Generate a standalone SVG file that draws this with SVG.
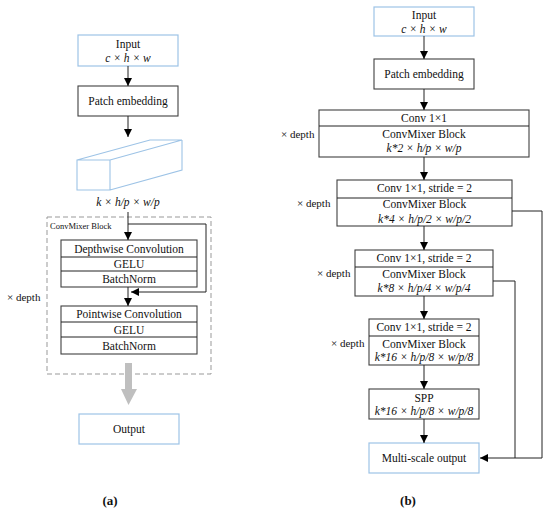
<svg xmlns="http://www.w3.org/2000/svg" width="550" height="513" viewBox="0 0 550 513" font-family="'Liberation Serif', 'DejaVu Serif', serif">
<defs>
<marker id="ah" viewBox="0 0 10 10" refX="10" refY="5" markerWidth="8" markerHeight="8" markerUnits="userSpaceOnUse" orient="auto">
<path d="M0,0 L10,5 L0,10 z" fill="#000"/>
</marker>
<style>
text{font-family:'Liberation Serif','DejaVu Serif',serif}
.t{font-size:11.5px;fill:#111;text-anchor:middle}
.i{font-style:italic}
.s{font-size:11px;fill:#111}
.blue{fill:#fff;stroke:#9dc3e6;stroke-width:1.2}
.box{fill:#fff;stroke:#404040;stroke-width:1.1}
.ln{fill:none;stroke:#222;stroke-width:1}
.cap{font-size:13px;font-weight:bold;fill:#111;text-anchor:middle}
</style>
</defs>
<rect width="550" height="513" fill="#fff"/>

<!-- Panel (a) -->
<g id="a-input"><rect class="blue" x="78" y="35" width="100" height="31"/><text class="t" x="128" y="48">Input</text><text class="t i" x="128" y="62">c × h × w</text></g>
<g id="a-patch"><rect class="box" x="78" y="86" width="100" height="30"/><text class="t" x="128" y="105">Patch embedding</text></g>
<g id="a-cuboid">
<path d="M77,160 H110 V190 H77 Z M77,160 L150,140 H182 L110,160 M182,140 V170 L110,190" fill="#fff" stroke="#9dc3e6" stroke-width="1.1"/>
<text class="t i" x="128" y="206">k × h/p × w/p</text>
</g>
<g id="a-block">
<rect x="47" y="217" width="164" height="157" fill="none" stroke="#999" stroke-width="1" stroke-dasharray="5,3"/>
<text class="s" x="50" y="229" style="font-size:8.5px">ConvMixer Block</text>
</g>
<g id="a-depthwise"><rect class="box" x="61" y="240" width="136" height="47"/><line class="ln" x1="61" y1="257" x2="197" y2="257"/><line class="ln" x1="61" y1="271" x2="197" y2="271"/>
<text class="t" x="129" y="252.5">Depthwise Convolution</text><text class="t" x="129" y="268">GELU</text><text class="t" x="129" y="283">BatchNorm</text></g>
<g id="a-pointwise"><rect class="box" x="61" y="306" width="136" height="48"/><line class="ln" x1="61" y1="322" x2="197" y2="322"/><line class="ln" x1="61" y1="337" x2="197" y2="337"/>
<text class="t" x="129" y="318">Pointwise Convolution</text><text class="t" x="129" y="333.5">GELU</text><text class="t" x="129" y="349.5">BatchNorm</text></g>
<text class="s" x="7" y="301">× depth</text>
<g id="a-output"><rect class="blue" x="79" y="414" width="100" height="30"/><text class="t" x="129" y="433">Output</text></g>
<text class="cap" x="110" y="505">(a)</text>

<!-- Panel (b) -->
<g id="b-input"><rect class="blue" x="374" y="7" width="100" height="29"/><text class="t" x="424" y="19">Input</text><text class="t i" x="424" y="33">c × h × w</text></g>
<g id="b-patch"><rect class="box" x="374" y="59" width="100" height="30"/><text class="t" x="424" y="78">Patch embedding</text></g>
<g id="b-block1"><rect class="box" x="319" y="110" width="210" height="47"/><line class="ln" x1="319" y1="126" x2="529" y2="126"/>
<text class="t" x="424" y="122">Conv 1×1</text><text class="t" x="424" y="138">ConvMixer Block</text><text class="t i" x="424" y="152">k*2 × h/p × w/p</text></g>
<text class="s" x="281" y="138">× depth</text>
<g id="b-block2"><rect class="box" x="337" y="180" width="175" height="46"/><line class="ln" x1="337" y1="198" x2="512" y2="198"/>
<text class="t" x="424.5" y="192">Conv 1×1, stride = 2</text><text class="t" x="424.5" y="208">ConvMixer Block</text><text class="t i" x="424.5" y="223">k*4 × h/p/2 × w/p/2</text></g>
<text class="s" x="297" y="207">× depth</text>
<g id="b-block3"><rect class="box" x="355" y="250" width="138" height="46"/><line class="ln" x1="355" y1="267" x2="493" y2="267"/>
<text class="t" x="424" y="262">Conv 1×1, stride = 2</text><text class="t" x="424" y="278">ConvMixer Block</text><text class="t i" x="424" y="292">k*8 × h/p/4 × w/p/4</text></g>
<text class="s" x="317" y="277">× depth</text>
<g id="b-block4"><rect class="box" x="369" y="319" width="110" height="46"/><line class="ln" x1="369" y1="336" x2="479" y2="336"/>
<text class="t" x="424" y="331">Conv 1×1, stride = 2</text><text class="t" x="424" y="348">ConvMixer Block</text><text class="t i" x="424" y="361">k*16 × h/p/8 × w/p/8</text></g>
<text class="s" x="331" y="347">× depth</text>
<g id="b-spp"><rect class="box" x="369" y="389" width="110" height="30"/><text class="t" x="424" y="402">SPP</text><text class="t i" x="424" y="415">k*16 × h/p/8 × w/p/8</text></g>
<g id="b-output"><rect class="blue" x="369" y="443" width="110" height="30"/><text class="t" x="424" y="462">Multi-scale output</text></g>
<text class="cap" x="408" y="505">(b)</text>

<!-- Connectors -->
<g id="connectors" class="ln" marker-end="url(#ah)">
<line x1="128" y1="66" x2="128" y2="86"/>
<line x1="128" y1="116" x2="128" y2="137"/>
<line x1="128" y1="212" x2="128" y2="240"/>
<path d="M128,224 H206 V292 H131"/>
<line x1="128" y1="287" x2="128" y2="306"/>
<line x1="424" y1="36" x2="424" y2="59"/>
<line x1="424" y1="89" x2="424" y2="110"/>
<line x1="424" y1="157" x2="424" y2="180"/>
<line x1="424" y1="226" x2="424" y2="250"/>
<line x1="424" y1="296" x2="424" y2="319"/>
<line x1="424" y1="365" x2="424" y2="389"/>
<line x1="424" y1="419" x2="424" y2="443"/>
<path d="M512,211 H542 V458 H480"/>
<path d="M493,281 H515 V458" marker-end="none"/>
</g>
<polygon id="gray-arrow" points="125,363 132,363 132,389 137,389 128.5,405 121,389 125,389" fill="#bfbfbf"/>
</svg>
